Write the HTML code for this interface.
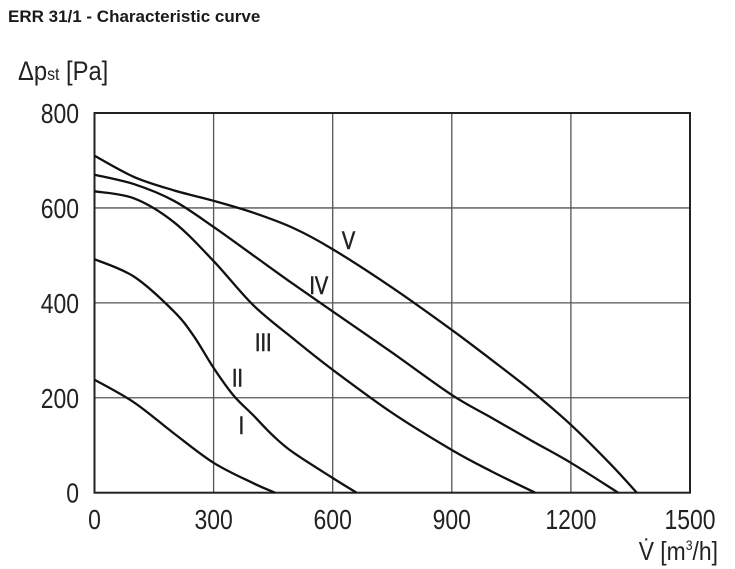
<!DOCTYPE html>
<html><head><meta charset="utf-8"><style>
body{margin:0;background:#fff;width:735px;height:569px;overflow:hidden}
svg{display:block}
text{font-family:"Liberation Sans",Arial,sans-serif;fill:#222}
</style></head><body>
<svg id="chart" width="735" height="569" viewBox="0 0 735 569">
<text x="8" y="22" font-size="17" font-weight="bold" style="fill:#1a1a1a">ERR 31/1 - Characteristic curve</text>
<text x="18" y="80" font-size="27" transform="translate(18,0) scale(0.88,1) translate(-18,0)">Δp<tspan font-size="18">st</tspan> [Pa]</text>
<text x="718" y="560" font-size="26" text-anchor="end" transform="translate(718,0) scale(0.88,1) translate(-718,0)">V̇ [m<tspan font-size="14" dy="-10">3</tspan><tspan dy="10">/h]</tspan></text>
<g id="grid"></g><g id="curves"></g><g id="ticks"></g><g id="labels"></g>
</svg>
<script>
const xTicks=[0,300,600,900,1200,1500];
const yTicks=[0,200,400,600,800];
const curveNames=["I","II","III","IV","V"];
const flowI=[0,100,200,300,400,455];
const presI=[238,190,125,63,20,0];
const flowII=[0,100,200,250,300,350,400,450,500,600,660];
const presII=[492,455,382,330,263,205,163,120,85,31,0];
const flowIII=[0,100,200,300,400,500,600,750,900,1000,1110];
const presIII=[635,620,570,488,395,325,259,168,90,45,0];
const flowIV=[0,100,200,300,400,500,600,750,900,1000,1100,1200,1319];
const presIV=[670,650,615,560,500,440,382,295,206,158,110,63,0];
const flowV=[0,100,200,300,400,500,600,750,900,1000,1100,1200,1300,1366];
const presV=[710,665,637,615,590,558,513,432,343,280,215,143,60,0];
const labelFlow=[370,360,425,565,640];
const labelPres=[145,245,320,440,535];
const X0=94.5,X1=690,Y0=492.7,Y1=113;
const xs=v=>X0+(v/1500)*(X1-X0);
const ys=p=>Y0-(p/800)*(Y0-Y1);
const NS="http://www.w3.org/2000/svg";
const grid=document.getElementById('grid'),curves=document.getElementById('curves'),ticks=document.getElementById('ticks'),labels=document.getElementById('labels');
function mk(t,a){const e=document.createElementNS(NS,t);for(const k in a)e.setAttribute(k,a[k]);return e;}
xTicks.forEach(v=>{if(v>0&&v<1500){const l=mk('line',{x1:xs(v),x2:xs(v),y1:Y1,y2:Y0,stroke:'#555','stroke-width':1.3});

grid.appendChild(l);}
const t=mk('text',{x:xs(v),y:529,'font-size':28,'text-anchor':'middle',fill:'#1a1a1a',transform:`translate(${xs(v)},0) scale(0.82,1) translate(${-xs(v)},0)`});t.textContent=v;

ticks.appendChild(t);});
yTicks.forEach(p=>{if(p>0&&p<800){const l=mk('line',{x1:X0,x2:X1,y1:ys(p),y2:ys(p),stroke:'#555','stroke-width':1.3});

grid.appendChild(l);}
const t=mk('text',{x:79,y:ys(p)+10,'font-size':28,'text-anchor':'end',transform:`translate(79,0) scale(0.82,1) translate(-79,0)`});t.textContent=p;

ticks.appendChild(t);});
const frame=mk('rect',{x:X0,y:Y1,width:X1-X0,height:Y0-Y1,fill:'none',stroke:'#222','stroke-width':2});

grid.appendChild(frame);
function path(fx,fy){const P=fx.map((v,i)=>[xs(v),ys(fy[i])]);let d=`M${P[0][0]},${P[0][1]}`;
for(let i=0;i<P.length-1;i++){const p0=P[i-1]||P[i],p1=P[i],p2=P[i+1],p3=P[i+2]||P[i+1];
d+=` C${p1[0]+(p2[0]-p0[0])/6},${p1[1]+(p2[1]-p0[1])/6} ${p2[0]-(p3[0]-p1[0])/6},${p2[1]-(p3[1]-p1[1])/6} ${p2[0]},${p2[1]}`;}return d;}
const series=[[flowI,presI],[flowII,presII],[flowIII,presIII],[flowIV,presIV],[flowV,presV]];
series.forEach((s,i)=>{const p=mk('path',{d:path(s[0],s[1]),fill:'none',stroke:'#111','stroke-width':2.3});

curves.appendChild(p);
const t=mk('text',{x:xs(labelFlow[i]),y:ys(labelPres[i])+10,'font-size':25,'text-anchor':'middle',stroke:'#222','stroke-width':0.6,transform:`translate(${xs(labelFlow[i])},0) scale(0.8,1) translate(${-xs(labelFlow[i])},0)`});t.textContent=curveNames[i];

labels.appendChild(t);});
</script>
</body></html>
